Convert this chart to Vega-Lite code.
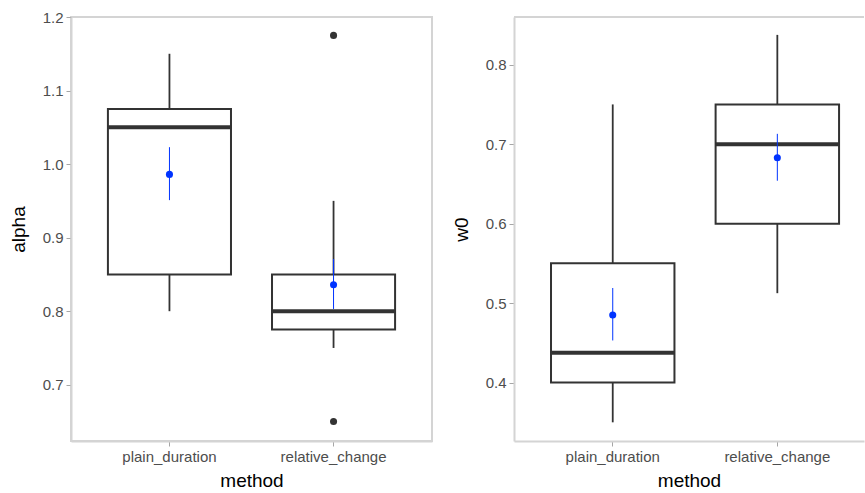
{
  "$schema": "https://vega.github.io/schema/vega-lite/v6.json",
  "padding": {"left": 8, "top": 9, "right": 0, "bottom": 0},
  "spacing": 19,
  "datasets": {
    "stats": [
      {"panel": "alpha", "method": "plain_duration", "lo": 0.8, "q1": 0.85, "med": 1.05, "q3": 1.075, "hi": 1.15, "mean": 0.986, "mlo": 0.951, "mhi": 1.023},
      {"panel": "alpha", "method": "relative_change", "lo": 0.75, "q1": 0.775, "med": 0.8, "q3": 0.85, "hi": 0.95, "mean": 0.836, "mlo": 0.803, "mhi": 0.871},
      {"panel": "w0", "method": "plain_duration", "lo": 0.35, "q1": 0.4, "med": 0.4375, "q3": 0.55, "hi": 0.75, "mean": 0.485, "mlo": 0.453, "mhi": 0.519},
      {"panel": "w0", "method": "relative_change", "lo": 0.5125, "q1": 0.6, "med": 0.7, "q3": 0.75, "hi": 0.8375, "mean": 0.683, "mlo": 0.654, "mhi": 0.713}
    ],
    "outliers": [
      {"panel": "alpha", "method": "relative_change", "value": 1.175},
      {"panel": "alpha", "method": "relative_change", "value": 0.65}
    ]
  },
  "hconcat": [
    {
      "width": 361,
      "height": 424,
      "data": {"name": "stats"},
      "transform": [{"filter": "datum.panel === 'alpha'"}],
      "encoding": {
        "x": {"field": "method", "type": "nominal", "title": "method",
              "scale": {"paddingInner": 0, "paddingOuter": 0.1},
              "axis": {"labelAngle": 0}}
      },
      "layer": [
        {"mark": {"type": "rule", "color": "#333333", "strokeWidth": 1.8},
         "encoding": {"y": {"field": "lo", "type": "quantitative", "title": "alpha",
                            "scale": {"domain": [0.6235, 1.2], "nice": false, "zero": false},
                            "axis": {"values": [0.7, 0.8, 0.9, 1.0, 1.1, 1.2], "format": ".1f"}},
                      "y2": {"field": "q1"}}},
        {"mark": {"type": "rule", "color": "#333333", "strokeWidth": 1.8},
         "encoding": {"y": {"field": "q3", "type": "quantitative"}, "y2": {"field": "hi"}}},
        {"mark": {"type": "bar", "fill": "white", "stroke": "#333333", "strokeWidth": 2, "width": {"band": 0.75}},
         "encoding": {"y": {"field": "q1", "type": "quantitative"}, "y2": {"field": "q3"}}},
        {"mark": {"type": "tick", "color": "#333333", "opacity": 1, "thickness": 4, "size": 123},
         "encoding": {"y": {"field": "med", "type": "quantitative"}}},
        {"data": {"name": "outliers"},
         "transform": [{"filter": "datum.panel === 'alpha'"}],
         "mark": {"type": "circle", "color": "#333333", "size": 50, "opacity": 1},
         "encoding": {"y": {"field": "value", "type": "quantitative"}}},
        {"mark": {"type": "rule", "color": "#0033ff", "strokeWidth": 1},
         "encoding": {"y": {"field": "mlo", "type": "quantitative"}, "y2": {"field": "mhi"}}},
        {"mark": {"type": "circle", "color": "#0033ff", "size": 50, "opacity": 1},
         "encoding": {"y": {"field": "mean", "type": "quantitative"}}}
      ]
    },
    {
      "width": 350,
      "height": 424,
      "view": {"stroke": null},
      "data": {"name": "stats"},
      "transform": [{"filter": "datum.panel === 'w0'"}],
      "encoding": {
        "x": {"field": "method", "type": "nominal", "title": "method",
              "scale": {"paddingInner": 0, "paddingOuter": 0.0632, "align": 0.79},
              "axis": {"labelAngle": 0}}
      },
      "layer": [
        {"mark": {"type": "rule", "color": "#d4d4d4", "strokeWidth": 2},
         "encoding": {"x": null, "y": {"datum": 0.86, "type": "quantitative"}}},
        {"mark": {"type": "rule", "color": "#333333", "strokeWidth": 1.8},
         "encoding": {"y": {"field": "lo", "type": "quantitative", "title": "w0",
                            "scale": {"domain": [0.3265, 0.86], "nice": false, "zero": false},
                            "axis": {"values": [0.4, 0.5, 0.6, 0.7, 0.8], "format": ".1f"}},
                      "y2": {"field": "q1"}}},
        {"mark": {"type": "rule", "color": "#333333", "strokeWidth": 1.8},
         "encoding": {"y": {"field": "q3", "type": "quantitative"}, "y2": {"field": "hi"}}},
        {"mark": {"type": "bar", "fill": "white", "stroke": "#333333", "strokeWidth": 2, "width": {"band": 0.75}},
         "encoding": {"y": {"field": "q1", "type": "quantitative"}, "y2": {"field": "q3"}}},
        {"mark": {"type": "tick", "color": "#333333", "opacity": 1, "thickness": 4, "size": 123},
         "encoding": {"y": {"field": "med", "type": "quantitative"}}},
        {"mark": {"type": "rule", "color": "#0033ff", "strokeWidth": 1},
         "encoding": {"y": {"field": "mlo", "type": "quantitative"}, "y2": {"field": "mhi"}}},
        {"mark": {"type": "circle", "color": "#0033ff", "size": 50, "opacity": 1},
         "encoding": {"y": {"field": "mean", "type": "quantitative"}}}
      ]
    }
  ],
  "config": {
    "view": {"stroke": "#d4d4d4", "strokeWidth": 2},
    "axis": {
      "labelFont": "Liberation Sans", "labelFontSize": 15, "labelColor": "#4d4d4d",
      "titleFont": "Liberation Sans", "titleFontSize": 19, "titleFontWeight": "normal", "titleColor": "#000000",
      "tickColor": "#a6a6a6", "tickSize": 5, "labelPadding": 3,
      "domainColor": "#d4d4d4", "domainWidth": 2, "grid": false
    },
    "axisX": {"titlePadding": 7},
    "axisY": {"titlePadding": 14}
  }
}
